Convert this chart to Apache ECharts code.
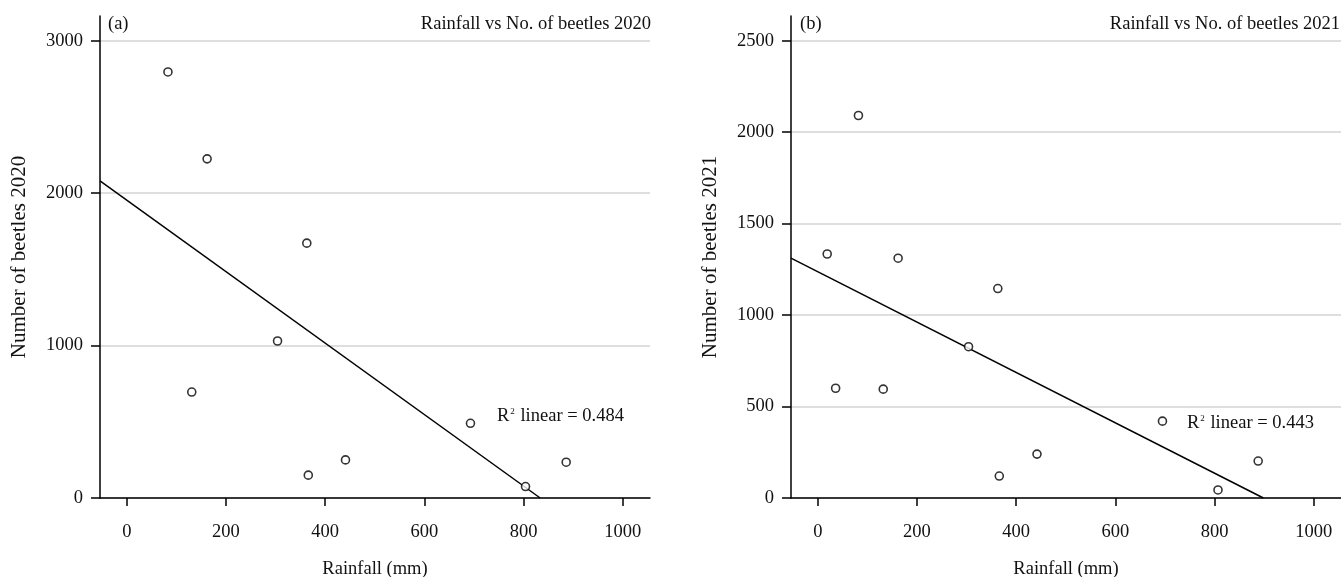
<!DOCTYPE html>
<html>
<head>
<meta charset="utf-8">
<script src="https://cdn.jsdelivr.net/npm/echarts@6/dist/echarts.min.js"></script>
<style>
  html, body { margin: 0; padding: 0; background: #fff; }
  #chart { width: 1341px; height: 577px; }
</style>
</head>
<body>
<div id="chart"></div>
<script>
// rainfall (mm) and beetle counts
const rain2020 = [83, 131, 162, 304, 363, 366, 441, 693, 804, 886];
const beetles2020 = [2795, 695, 2225, 1030, 1672, 150, 250, 490, 75, 235];

const rain2021 = [19, 36, 82, 132, 162, 304, 363, 366, 442, 695, 807, 888];
const beetles2021 = [1334, 600, 2091, 595, 1311, 827, 1145, 120, 240, 420, 44, 202];

const xTicks = [0, 200, 400, 600, 800, 1000];
const yTicks2020 = [0, 1000, 2000, 3000];
const yTicks2021 = [0, 500, 1000, 1500, 2000, 2500];

const panelTags = ["(a)", "(b)"];
const panelTitles = ["Rainfall vs No. of beetles 2020", "Rainfall vs No. of beetles 2021"];
const r2Values = ["0.484", "0.443"];

const FONT = '"Liberation Serif", "Times New Roman", serif';
const TEXT_COLOR = "#111";
const FS = 18.5;
const X_MIN = -54;
const X_MAX = 1055;

// least squares fit, from the left edge of the axis down to y = 0
function fitLine(xs, ys) {
  const n = xs.length;
  const mx = xs.reduce((a, b) => a + b, 0) / n;
  const my = ys.reduce((a, b) => a + b, 0) / n;
  let sxy = 0, sxx = 0;
  for (let i = 0; i < n; i++) {
    sxy += (xs[i] - mx) * (ys[i] - my);
    sxx += (xs[i] - mx) * (xs[i] - mx);
  }
  const slope = sxy / sxx;
  const icpt = my - slope * mx;
  return [[X_MIN, icpt + slope * X_MIN], [-icpt / slope, 0]];
}

const pairs = (xs, ys) => xs.map((x, i) => [x, ys[i]]);

const textStyle = { fontFamily: FONT, fontSize: FS, color: TEXT_COLOR };
const plainNum = (v) => String(v);

function xAxisCfg(gridIndex) {
  return {
    type: "value",
    gridIndex,
    min: X_MIN,
    max: X_MAX,
    name: "Rainfall (mm)",
    nameLocation: "middle",
    nameGap: 62,
    nameTextStyle: textStyle,
    axisLine: { show: true, onZero: false, lineStyle: { color: "#000", width: 1.5 } },
    axisTick: { show: true, length: 8, customValues: xTicks, lineStyle: { color: "#000", width: 1.5 } },
    axisLabel: { customValues: xTicks, margin: 25, formatter: plainNum, ...textStyle },
    splitLine: { show: false },
  };
}

function yAxisCfg(gridIndex, max, ticks, name) {
  return {
    type: "value",
    gridIndex,
    min: 0,
    max,
    name,
    nameLocation: "middle",
    nameGap: 70,
    nameTextStyle: { ...textStyle, fontSize: 21 },
    axisLine: { show: true, onZero: false, lineStyle: { color: "#000", width: 1.5 } },
    axisTick: { show: true, length: 9, customValues: ticks, lineStyle: { color: "#000", width: 1.5 } },
    axisLabel: { customValues: ticks, margin: 17, formatter: plainNum, ...textStyle },
    splitLine: { show: true, customValues: ticks, lineStyle: { color: "#d3d3d3", width: 1.5 } },
  };
}

function scatterSeries(idx, data) {
  return {
    type: "scatter",
    xAxisIndex: idx,
    yAxisIndex: idx,
    data,
    symbol: "circle",
    symbolSize: 8,
    itemStyle: { color: "#fff", borderColor: "#000", borderWidth: 1.6 },
    z: 3,
  };
}

function fitSeries(idx, data) {
  return {
    type: "line",
    xAxisIndex: idx,
    yAxisIndex: idx,
    data,
    showSymbol: false,
    silent: true,
    lineStyle: { color: "#000", width: 1.5 },
    z: 2,
  };
}

function r2Text(x, y, val) {
  return {
    type: "text",
    x,
    y,
    style: {
      text: "{r|R}{s|2}{r| linear = " + val + "}",
      verticalAlign: "middle",
      rich: {
        r: { fontFamily: FONT, fontSize: FS, fill: TEXT_COLOR, lineHeight: 22 },
        s: { fontFamily: FONT, fontSize: 9, fill: TEXT_COLOR, verticalAlign: "top", lineHeight: 22, padding: [2, 1, 0, 1] },
      },
    },
  };
}

function plainText(x, y, text, align) {
  return {
    type: "text",
    x,
    y,
    style: {
      text,
      align,
      verticalAlign: "middle",
      font: FS + "px " + FONT,
      fill: TEXT_COLOR,
    },
  };
}

const chart = echarts.init(document.getElementById("chart"));

const option = {
  animation: false,
  grid: [
    { left: 100, top: 16, width: 550, height: 482, outerBoundsMode: "none" },
    { left: 791, top: 16, width: 550, height: 482, outerBoundsMode: "none" },
  ],
  xAxis: [xAxisCfg(0), xAxisCfg(1)],
  yAxis: [
    yAxisCfg(0, 3162, yTicks2020, "Number of beetles 2020"),
    yAxisCfg(1, 2635, yTicks2021, "Number of beetles 2021"),
  ],
  series: [
    fitSeries(0, fitLine(rain2020, beetles2020)),
    scatterSeries(0, pairs(rain2020, beetles2020)),
    fitSeries(1, fitLine(rain2021, beetles2021)),
    scatterSeries(1, pairs(rain2021, beetles2021)),
  ],
  graphic: [
    plainText(108, 24, panelTags[0], "left"),
    plainText(651, 24, panelTitles[0], "right"),
    plainText(800, 24, panelTags[1], "left"),
    plainText(1340, 24, panelTitles[1], "right"),
    r2Text(497, 416, r2Values[0]),
    r2Text(1187, 423, r2Values[1]),
  ],
};

chart.setOption(option);
</script>
</body>
</html>
